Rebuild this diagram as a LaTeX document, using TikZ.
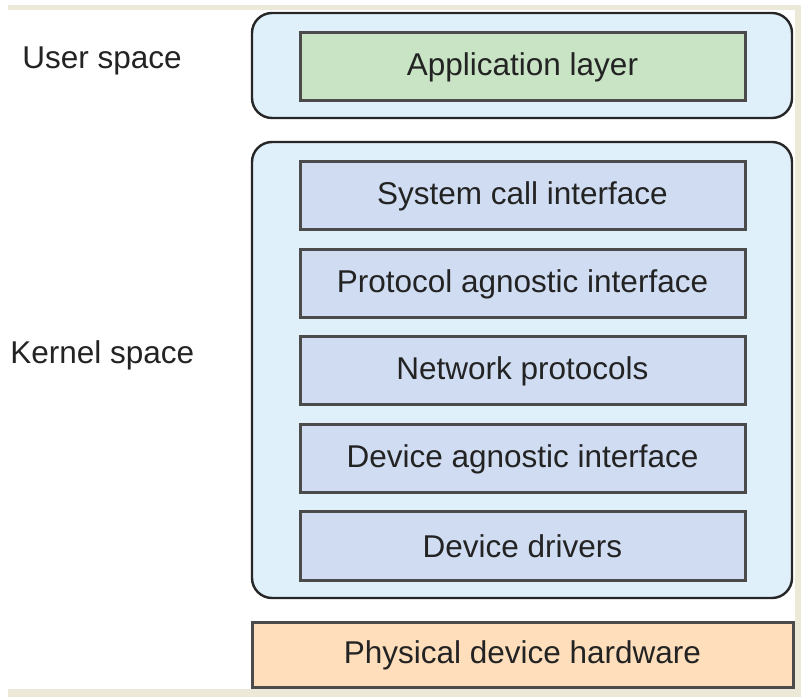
\documentclass[tikz,border=0pt]{standalone}
\usepackage{fontspec}
\setmainfont{Liberation Sans}
\usetikzlibrary{positioning}

\definecolor{framebeige}{RGB}{236,233,216}
\definecolor{spaceblue}{RGB}{223,240,251}
\definecolor{appgreen}{RGB}{200,228,196}
\definecolor{kernlav}{RGB}{207,220,241}
\definecolor{hwpeach}{RGB}{255,222,188}
\definecolor{edgegray}{RGB}{75,75,75}
\definecolor{txtgray}{RGB}{35,35,35}

\begin{document}
\begin{tikzpicture}[
    x=0.5pt, y=-0.5pt,
    every node/.style={font=\fontsize{15.75}{18}\selectfont, text=txtgray}, % 统一字体
    space/.style={draw=black!85, line width=1.2pt, fill=spaceblue, rounded corners=10pt,
                  minimum width=270pt, inner sep=0pt}, % 外层圆角框
    layer/.style={draw=edgegray, line width=1.5pt, fill=kernlav,
                  minimum width=222.5pt, minimum height=34pt, inner sep=0pt}, % 内核层
    sidelabel/.style={anchor=west, inner sep=0pt} % 左侧标注
]
    % 1. 背景边框
    \useasboundingbox (0,0) rectangle (808,699);
    \fill[framebeige] (8,5) rectangle (801,697);
    \fill[white] (8,10) rectangle (795,689);

    % 2. 外层框: User space / Kernel space
    \node[space, minimum height=52.5pt] (user) at (522,65.5) {};
    \node[space, minimum height=228pt] (kernel) at (522,370) {};

    % 3. 各层
    \node[layer, fill=appgreen] (app) at (522.5,67) {Application layer};
    \node[layer] (syscall) at (522.5,196) {System call interface};
    \node[layer] (protoif) at (522.5,284) {Protocol agnostic interface};
    \node[layer] (netproto) at (522.5,371) {Network protocols};
    \node[layer] (devif) at (522.5,459) {Device agnostic interface};
    \node[layer] (drivers) at (522.5,546) {Device drivers};
    \node[layer, fill=hwpeach, minimum width=270.5pt, minimum height=32.5pt] (hw) at (522.5,655) {Physical device hardware};

    % 4. 左侧标注
    \node[sidelabel] (userlbl) at (22,61) {User space};
    \node[sidelabel] (kernlbl) at (10,355) {Kernel space};

\end{tikzpicture}
\end{document}
